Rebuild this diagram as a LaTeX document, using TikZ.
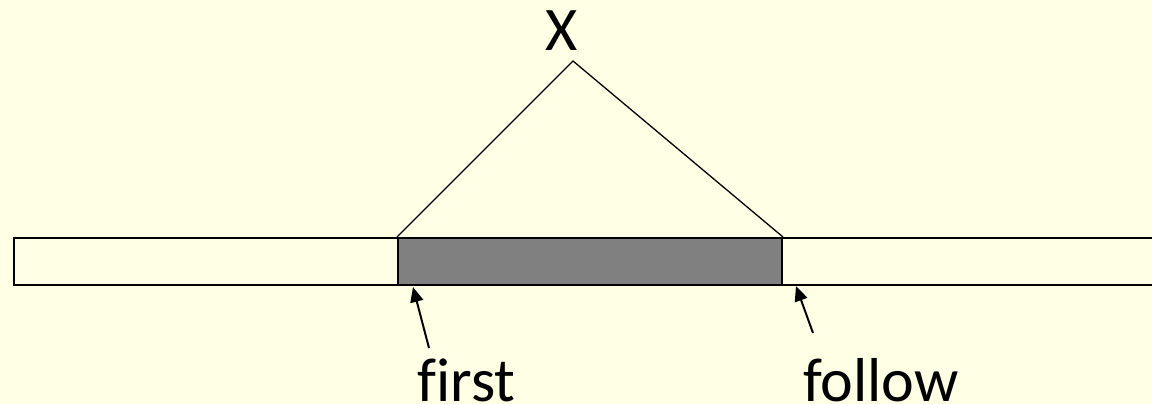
\documentclass[tikz,border=0pt]{standalone}
\usepackage{fontspec}
\setmainfont{Carlito}[Ligatures=NoCommon]
\usepackage{tikz}
\usetikzlibrary{arrows.meta,positioning}
\definecolor{slidebg}{HTML}{FFFFE6}
\tikzstyle{cell} = [draw, line width=2pt, inner sep=0pt, minimum height=47pt, anchor=north west]
\tikzstyle{lbl} = [font=\fontsize{62}{70}\selectfont, inner sep=0pt, anchor=base]
\tikzstyle{arrow} = [-{Triangle[length=15pt,width=13pt]}, line width=2pt]

\begin{document}
\begin{tikzpicture}[x=1pt,y=-1pt]
\fill[slidebg] (0,0) rectangle (1152,404);
\useasboundingbox (0,0) rectangle (1152,404);
% the array
\node[cell, minimum width=384pt] (left) at (13,237) {};
\node[cell, fill=gray, minimum width=384pt] (mid) at (397,237) {};
\node[cell, minimum width=390pt] (right) at (781,237) {};
% the subtree
\coordinate (top) at (573,61);
\node[lbl] (x) at (561.5,51) {X};
\draw[line width=1.3pt] (mid.north west) -- (top) -- (mid.north east);
% pointers
\node[lbl] (first) at (466.5,401) {first};
\node[lbl] (follow) at (881,401) {follow};
\coordinate (firsttail) at (429,348);
\coordinate (firsttip) at (413,287);
\coordinate (followtail) at (813,333);
\coordinate (followtip) at (796,286);
\draw[arrow] (firsttail) -- (firsttip);
\draw[arrow] (followtail) -- (followtip);
\end{tikzpicture}
\end{document}
